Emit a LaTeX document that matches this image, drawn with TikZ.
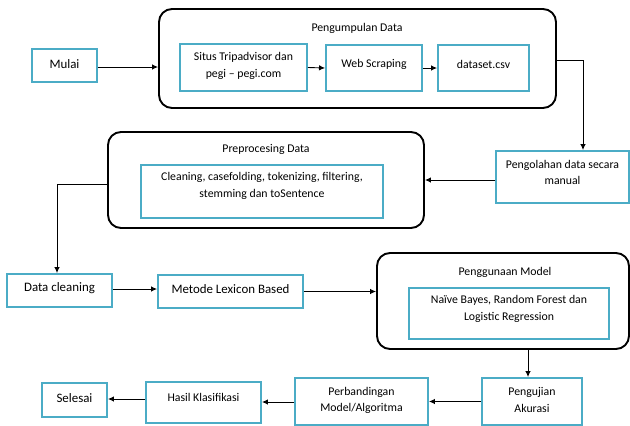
\documentclass[tikz,border=0pt]{standalone}
\usepackage{fontspec}
\setmainfont{Carlito}
\usetikzlibrary{arrows.meta}
\definecolor{boxblue}{HTML}{4BACC6}
\tikzset{
  bbox/.style={draw=boxblue, line width=1.9pt, fill=white, inner sep=0pt, align=center},
  rbox/.style={draw=black, line width=1.9pt, rounded corners=13pt, inner sep=0pt},
  txt/.style={inner sep=0pt, align=center, font=\fontsize{11.8}{16.5}\selectfont},
  bigtxt/.style={inner sep=0pt, align=center, font=\fontsize{12.9}{16.5}\selectfont},
  conn/.style={draw=black, line width=0.9pt, -{Latex[length=6pt,width=5.5pt]}},
}
\begin{document}
\begin{tikzpicture}[x=1pt,y=-1pt]
\useasboundingbox (0,0) rectangle (630,426);
% big rounded containers
\node[rbox, minimum width=397pt, minimum height=99pt] (pk) at (357.5,58.5) {};
\node[txt] (pklab) at (357,28) {Pengumpulan Data};
\node[rbox, minimum width=316pt, minimum height=96pt] (pre) at (266,180) {};
\node[txt] (prelab) at (266,149) {Preprocesing Data};
\node[rbox, minimum width=252pt, minimum height=96pt] (pm) at (503,301) {};
\node[txt] (pmlab) at (505,272) {Penggunaan Model};
% blue boxes
\node[bbox, minimum width=65pt, minimum height=33pt] (mulai) at (64.5,65.5) {};
\node[bigtxt] (mulait) at (64.5,64.5) {Mulai};
\node[bbox, minimum width=127pt, minimum height=47pt] (situs) at (243.5,67.5) {};
\node[txt] (situst) at (243.5,66) {Situs Tripadvisor dan\\pegi -- pegi.com};
\node[bbox, minimum width=96pt, minimum height=46pt] (web) at (374,68) {};
\node[txt] (webt) at (374,64) {Web Scraping};
\node[bbox, minimum width=91pt, minimum height=46pt] (ds) at (483.5,68) {};
\node[txt] (dst) at (483.5,64) {dataset.csv};
\node[bbox, minimum width=133pt, minimum height=52pt] (peng) at (562.5,177) {};
\node[txt] (pengt) at (562.5,172.5) {Pengolahan data secara\\manual};
\node[bbox, minimum width=242pt, minimum height=53pt] (prein) at (262,191.5) {};
\node[txt] (preint) at (262,186) {Cleaning, casefolding, tokenizing, filtering,\\stemming dan toSentence};
\node[bbox, minimum width=105pt, minimum height=33pt] (dc) at (59.5,290.5) {};
\node[bigtxt] (dct) at (59.5,288) {Data cleaning};
\node[bbox, minimum width=145pt, minimum height=33pt] (met) at (230.5,291.5) {};
\node[bigtxt] (mett) at (230.5,289) {Metode Lexicon Based};
\node[bbox, minimum width=200pt, minimum height=51pt] (pmin) at (509,313.5) {};
\node[txt] (pmint) at (509,309) {Naïve Bayes, Random Forest dan\\Logistic Regression};
\node[bbox, minimum width=100pt, minimum height=47pt] (pu) at (532,401.5) {};
\node[txt] (put) at (532,400) {Pengujian\\Akurasi};
\node[bbox, minimum width=133pt, minimum height=47pt] (pb) at (361.5,401.5) {};
\node[txt] (pbt) at (361.5,400.5) {Perbandingan\\Model/Algoritma};
\node[bbox, minimum width=115pt, minimum height=41pt] (hk) at (203.5,402.5) {};
\node[txt] (hkt) at (203.5,397) {Hasil Klasifikasi};
\node[bbox, minimum width=65pt, minimum height=34pt] (sl) at (74.5,400) {};
\node[bigtxt] (slt) at (74.5,398) {Selesai};
% connectors
\draw[conn] ([yshift=-1.5pt]mulai.east) -- ([yshift=-1.5pt]mulai.east -| pk.west);
\draw[conn] (situs.east) -- (web.west);
\draw[conn] (web.east) -- (ds.west);
\draw[conn] ([yshift=-1.5pt]pk.east) -| ([xshift=20.5pt]peng.north);
\draw[conn] (peng.west |- pre.east) -- (pre.east);
\draw[conn] ([yshift=-4pt]pre.west) -| ([xshift=-2.5pt]dc.north);
\draw[conn] ([yshift=1.5pt]dc.east) -- ([yshift=1.5pt]dc.east -| met.west);
\draw[conn] (met.east) -- (met.east -| pm.west);
\draw[conn] ([xshift=-4pt]pu.north |- pm.south) -- ([xshift=-4pt]pu.north);
\draw[conn] (pu.west) -- (pu.west -| pb.east);
\draw[conn] ([yshift=-0.5pt]pb.west) -- ([yshift=-0.5pt]pb.west -| hk.east);
\draw[conn] ([yshift=1pt]sl.east -| hk.west) -- ([yshift=1pt]sl.east);
\end{tikzpicture}
\end{document}
